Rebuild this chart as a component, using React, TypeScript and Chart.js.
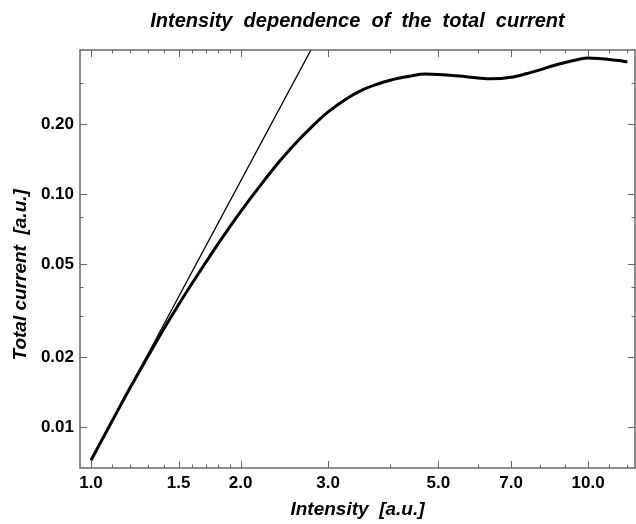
import React, { useEffect, useRef } from "react";
import { Chart, registerables } from "chart.js";

Chart.register(...registerables);

// Measured curve: total current vs intensity (log-log)
const intensity = [1.0, 1.1, 1.2, 1.3, 1.4, 1.5, 1.6, 1.7, 1.8, 2.0, 2.2, 2.4, 2.6, 2.8, 3.0, 3.25, 3.5, 3.75, 4.0, 4.4, 4.7, 5.0, 5.5, 6.0, 6.4, 7.0, 7.5, 8.0, 8.5, 9.0, 9.5, 10.0, 10.5, 11.0, 11.5, 12.0];
const totalCurrent = [0.0072, 0.0105, 0.0148, 0.02, 0.0263, 0.0335, 0.0416, 0.0507, 0.0609, 0.084, 0.11, 0.1388, 0.168, 0.197, 0.225, 0.2547, 0.2784, 0.295, 0.308, 0.321, 0.327, 0.326, 0.321, 0.315, 0.312, 0.317, 0.328, 0.341, 0.355, 0.367, 0.377, 0.383, 0.382, 0.378, 0.374, 0.369];

// Power-law reference line (two end points)
const lineIntensity = [1.0, 2.85];
const lineCurrent = [0.0072, 0.465];

// Axis ticks
const xMajor = [1.0, 1.5, 2.0, 3.0, 5.0, 7.0, 10.0];
const xLabels = ["1.0", "1.5", "2.0", "3.0", "5.0", "7.0", "10.0"];
const xMinor = [1.1, 1.2, 1.3, 1.4, 1.6, 1.7, 1.8, 1.9, 4.0, 6.0, 8.0, 9.0, 11.0, 12.0];
const yMajor = [0.01, 0.02, 0.05, 0.1, 0.2];
const yLabels = ["0.01", "0.02", "0.05", "0.10", "0.20"];
const yMinor = [0.03, 0.04, 0.08, 0.3];

const FONT = "'Liberation Sans', Arial, Helvetica, sans-serif";
const FRAME = "#666666";

const framePlugin = {
  id: "frameTicks",
  afterDraw(chart: any) {
    const { ctx, chartArea } = chart;
    const { left, right, top, bottom } = chartArea;
    const xs = chart.scales.x;
    const ys = chart.scales.y;
    ctx.save();
    ctx.strokeStyle = FRAME;
    ctx.lineWidth = 1.5;
    ctx.strokeRect(left, top, right - left, bottom - top);
    ctx.lineWidth = 1;
    const drawX = (v: number, len: number) => {
      const p = Math.round(xs.getPixelForValue(v)) + 0.5;
      ctx.beginPath();
      ctx.moveTo(p, bottom);
      ctx.lineTo(p, bottom - len);
      ctx.moveTo(p, top);
      ctx.lineTo(p, top + len);
      ctx.stroke();
    };
    const drawY = (v: number, len: number) => {
      const p = Math.round(ys.getPixelForValue(v)) + 0.5;
      ctx.beginPath();
      ctx.moveTo(left, p);
      ctx.lineTo(left + len, p);
      ctx.moveTo(right, p);
      ctx.lineTo(right - len, p);
      ctx.stroke();
    };
    xMajor.forEach((v) => drawX(v, 7));
    xMinor.forEach((v) => drawX(v, 3.5));
    yMajor.forEach((v) => drawY(v, 7));
    yMinor.forEach((v) => drawY(v, 3.5));
    ctx.restore();
  },
};

export default function App() {
  const ref = useRef<HTMLCanvasElement | null>(null);

  useEffect(() => {
    document.body.style.margin = "0";
    const canvas = ref.current;
    if (!canvas) return;
    const chart = new Chart(canvas, {
      type: "line",
      data: {
        datasets: [
          {
            data: intensity.map((x, i) => ({ x, y: totalCurrent[i] })),
            borderColor: "#000000",
            borderWidth: 3,
            pointRadius: 0,
            cubicInterpolationMode: "monotone",
            fill: false,
          },
          {
            data: lineIntensity.map((x, i) => ({ x, y: lineCurrent[i] })),
            borderColor: "#000000",
            borderWidth: 1.3,
            pointRadius: 0,
            tension: 0,
            fill: false,
          },
        ],
      },
      options: {
        animation: false,
        responsive: false,
        maintainAspectRatio: false,
        layout: { padding: { left: 0, right: 1, top: 0, bottom: 0 } },
        plugins: {
          legend: { display: false },
          tooltip: { enabled: false },
          title: {
            display: true,
            text: "Intensity  dependence  of  the  total  current",
            color: "#000000",
            fullSize: false,
            font: { family: FONT, size: 20, weight: "bold", style: "italic" },
            padding: { top: 9, bottom: 17 },
          },
        },
        scales: {
          x: {
            type: "logarithmic",
            min: 0.9503,
            max: 12.43,
            grid: { display: false, drawTicks: false },
            border: { display: false },
            afterBuildTicks: (scale: any) => {
              scale.ticks = xMajor.map((v) => ({ value: v }));
            },
            afterFit: (scale: any) => {
              scale.height = 56;
            },
            ticks: {
              autoSkip: false,
              maxRotation: 0,
              padding: 5,
              color: "#000000",
              font: { family: FONT, size: 17, weight: "bold" },
              callback: (_v: any, i: number) => xLabels[i],
            },
            title: {
              display: true,
              text: "Intensity  [a.u.]",
              color: "#000000",
              font: { family: FONT, size: 19, weight: "bold", style: "italic" },
              padding: { top: 0, bottom: 3 },
            },
          },
          y: {
            type: "logarithmic",
            min: 0.00667,
            max: 0.415,
            grid: { display: false, drawTicks: false },
            border: { display: false },
            afterBuildTicks: (scale: any) => {
              scale.ticks = yMajor.map((v) => ({ value: v }));
            },
            afterFit: (scale: any) => {
              scale.width = 80;
            },
            ticks: {
              autoSkip: false,
              padding: 6,
              color: "#000000",
              font: { family: FONT, size: 17, weight: "bold" },
              callback: (_v: any, i: number) => yLabels[i],
            },
            title: {
              display: true,
              text: "Total current  [a.u.]      ",
              color: "#000000",
              font: { family: FONT, size: 19, weight: "bold", style: "italic" },
              padding: { top: 9, bottom: 0 },
            },
          },
        },
      },
      plugins: [framePlugin],
    } as any);
    return () => chart.destroy();
  }, []);

  return (
    <div style={{ width: 636, height: 524, background: "#ffffff" }}>
      <canvas ref={ref} width={636} height={524} style={{ display: "block" }} />
    </div>
  );
}
